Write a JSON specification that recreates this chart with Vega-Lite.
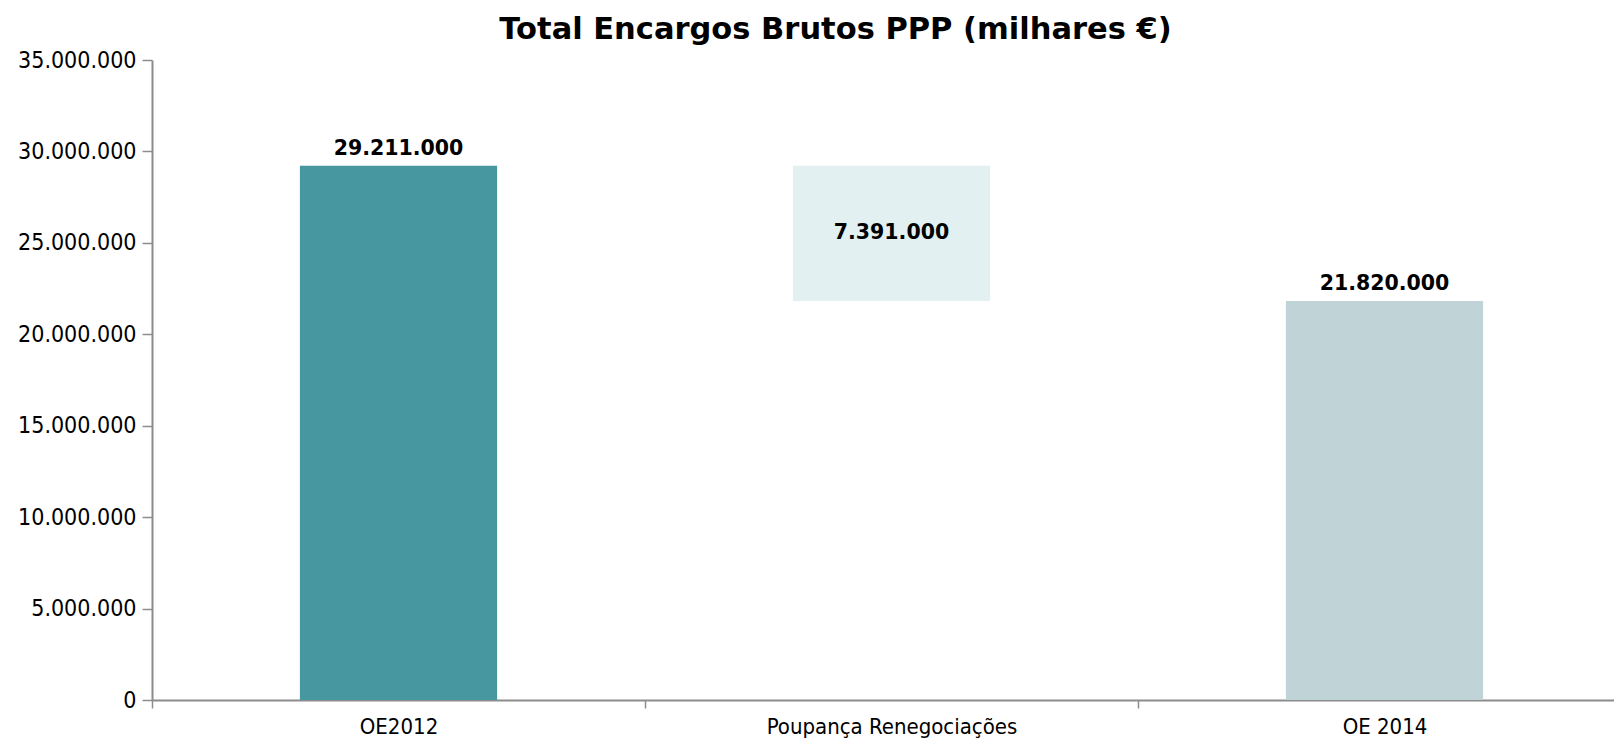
{
  "$schema": "https://vega.github.io/schema/vega-lite/v6.json",
  "width": 1479,
  "height": 640,
  "autosize": {"type": "none"},
  "padding": {"left": 152, "top": 60, "right": 0, "bottom": 41},
  "background": "white",
  "title": {
    "text": "Total Encargos Brutos PPP (milhares €)",
    "font": "DejaVu Sans",
    "fontSize": 30.5,
    "fontWeight": "bold",
    "color": "#000000",
    "anchor": "middle",
    "dx": -56,
    "offset": 4
  },
  "config": {
    "locale": {"number": {"decimal": ",", "thousands": ".", "grouping": [3], "currency": ["", " €"]}},
    "view": {"stroke": null}
  },
  "data": {
    "values": [
      {"categoria": "OE2012", "inicio": 0, "fim": 29211000, "valor": 29211000, "tipo": "total"},
      {"categoria": "Poupança Renegociações", "inicio": 21820000, "fim": 29211000, "valor": 7391000, "tipo": "variacao"},
      {"categoria": "OE 2014", "inicio": 0, "fim": 21820000, "valor": 21820000, "tipo": "total"}
    ]
  },
  "encoding": {
    "x": {
      "field": "categoria",
      "type": "nominal",
      "sort": null,
      "scale": {"paddingInner": 0, "paddingOuter": 0},
      "axis": {
        "title": null,
        "labelAngle": 0,
        "labelLimit": 0,
        "labelFont": "DejaVu Sans Condensed",
        "labelFontSize": 22,
        "labelColor": "#000000",
        "labelPadding": 8,
        "tickBand": "extent",
        "tickSize": 8,
        "tickColor": "#8c8c8c",
        "domainColor": "#8c8c8c",
        "domainWidth": 2,
        "tickWidth": 1.5
      }
    }
  },
  "layer": [
    {
      "mark": {"type": "bar", "width": {"band": 0.4}},
      "encoding": {
        "y": {
          "field": "inicio",
          "type": "quantitative",
          "scale": {"domain": [0, 35000000], "nice": false},
          "axis": {
            "title": null,
            "values": [0, 5000000, 10000000, 15000000, 20000000, 25000000, 30000000, 35000000],
            "format": ",d",
            "grid": false,
            "labelFont": "DejaVu Sans Condensed",
            "labelFontSize": 23,
            "labelColor": "#000000",
            "labelPadding": 6,
            "tickSize": 10,
            "tickColor": "#8c8c8c",
            "domainColor": "#8c8c8c",
            "domainWidth": 2,
            "tickWidth": 1.5
          }
        },
        "y2": {"field": "fim"},
        "color": {
          "field": "categoria",
          "type": "nominal",
          "scale": {
            "domain": ["OE2012", "Poupança Renegociações", "OE 2014"],
            "range": ["#46979F", "#E2F0F1", "#C0D3D7"]
          },
          "legend": null
        }
      }
    },
    {
      "transform": [{"filter": "datum.tipo === 'total'"}],
      "mark": {"type": "text", "baseline": "bottom", "dy": -7, "font": "DejaVu Sans", "fontSize": 20.5, "fontWeight": "bold", "color": "#000000"},
      "encoding": {
        "y": {"field": "fim", "type": "quantitative"},
        "text": {"field": "valor", "type": "quantitative", "format": ",d"}
      }
    },
    {
      "transform": [{"filter": "datum.tipo === 'variacao'"}],
      "mark": {"type": "text", "baseline": "middle", "dy": 67, "font": "DejaVu Sans", "fontSize": 20.5, "fontWeight": "bold", "color": "#000000"},
      "encoding": {
        "y": {"field": "fim", "type": "quantitative"},
        "text": {"field": "valor", "type": "quantitative", "format": ",d"}
      }
    }
  ]
}
